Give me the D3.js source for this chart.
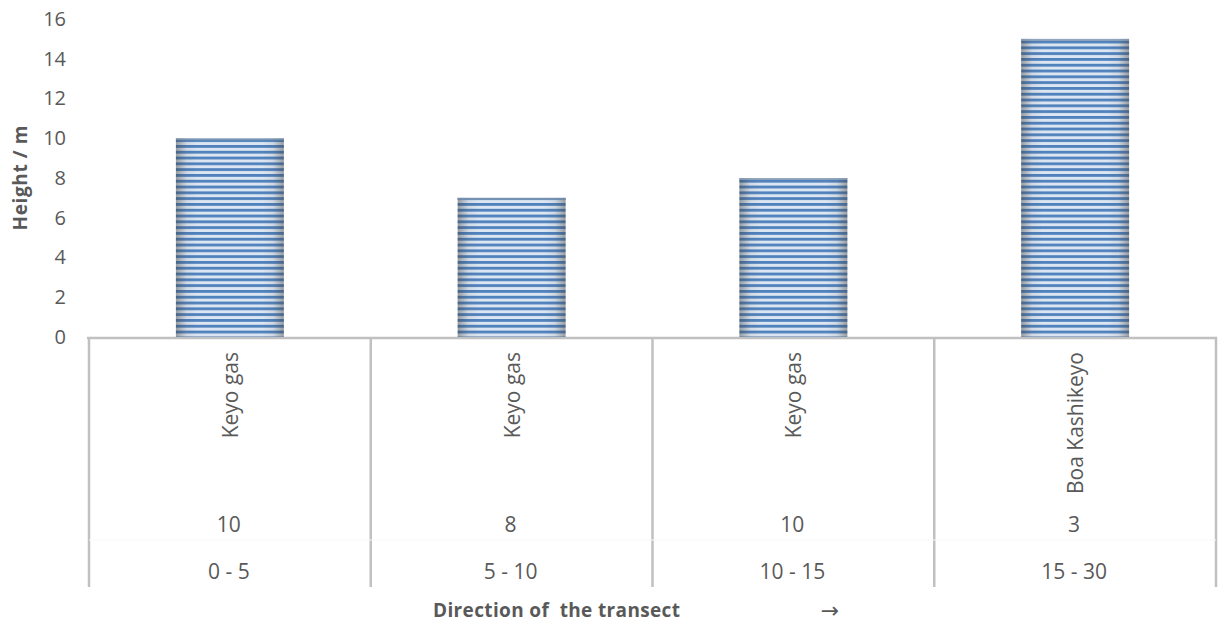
<!DOCTYPE html>
<html><head><meta charset="utf-8">
<script src="https://cdn.jsdelivr.net/npm/d3@7"></script>
<style>body{margin:0;background:#fff}svg{display:block}</style>
</head><body>
<script>
const species = ["Keyo gas", "Keyo gas", "Keyo gas", "Boa Kashikeyo"];
const counts = ["10", "8", "10", "3"];
const ranges = ["0 - 5", "5 - 10", "10 - 15", "15 - 30"];
const heights = [10, 7, 8, 15];
const yTicks = [0, 2, 4, 6, 8, 10, 12, 14, 16];

const W = 1219, H = 624;
const svg = d3.select("body").append("svg").attr("width", W).attr("height", H);
const font = "'Open Sans', sans-serif";
const textCol = "#595959";
const lineCol = "#c0c0c0";

const defs = svg.append("defs");
const pat = defs.append("pattern").attr("id", "stripes").attr("patternUnits", "userSpaceOnUse")
  .attr("width", 10).attr("height", 5.8);
pat.append("rect").attr("width", 10).attr("height", 5.8).attr("fill", "#dce6f2");
pat.append("rect").attr("y", 0).attr("width", 10).attr("height", 2.8).attr("fill", "#4f81bd");
const grad = defs.append("linearGradient").attr("id", "shade").attr("x1", 0).attr("x2", 1).attr("y1", 0).attr("y2", 0);
[[0, 0.45], [0.1, 0.08], [0.2, 0], [0.8, 0], [0.9, 0.08], [1, 0.45]].forEach(([o, a]) =>
  grad.append("stop").attr("offset", o).attr("stop-color", "#404040").attr("stop-opacity", a));

const x = d3.scaleBand().domain(d3.range(heights.length)).range([89, 1216]).padding(0);
const y = d3.scaleLinear().domain([0, 16]).range([337, 19]);
const barW = x.bandwidth() * 0.383;

// y tick labels
const yAxis = d3.axisLeft(y).tickValues(yTicks).tickSize(0).tickPadding(0);
const ga = svg.append("g").attr("transform", "translate(66,0)").call(yAxis);
ga.select(".domain").remove();
ga.selectAll("text").attr("font-family", font).attr("font-size", 20).attr("fill", textCol);

// bars
const bars = svg.append("g");
heights.forEach((v, i) => {
  const bx = x(i) + (x.bandwidth() - barW) / 2;
  bars.append("rect").attr("x", bx).attr("y", y(v)).attr("width", barW).attr("height", y(0) - y(v))
    .attr("fill", "url(#stripes)");
  bars.append("rect").attr("x", bx).attr("y", y(v)).attr("width", barW).attr("height", y(0) - y(v))
    .attr("fill", "url(#shade)");
  bars.append("rect").attr("x", bx).attr("y", y(v)).attr("width", barW).attr("height", 2)
    .attr("fill", "#8096b0").attr("opacity", 0.8);
});

// axis lines (multi-level category axis)
const bottom = 587;
svg.append("line").attr("x1", 87).attr("x2", 1217).attr("y1", y(0) + 1).attr("y2", y(0) + 1)
  .attr("stroke", lineCol).attr("stroke-width", 2.5);
const bounds = d3.range(heights.length + 1).map(i => i < heights.length ? x(i) : x(heights.length - 1) + x.bandwidth());
bounds.forEach(b => {
  svg.append("line").attr("x1", b).attr("x2", b).attr("y1", y(0)).attr("y2", bottom)
    .attr("stroke", lineCol).attr("stroke-width", 2.5);
});
svg.append("line").attr("x1", 89).attr("x2", 1216).attr("y1", 540).attr("y2", 540)
  .attr("stroke", "#f8f8f8").attr("stroke-width", 1);

// category labels
const cx = i => x(i) + x.bandwidth() / 2;
species.forEach((s, i) => {
  svg.append("text").attr("transform", `translate(${cx(i) + 8},352) rotate(-90)`)
    .attr("text-anchor", "end").attr("font-family", font).attr("font-size", 21).attr("fill", textCol).text(s);
});
counts.forEach((s, i) => {
  svg.append("text").attr("x", cx(i) - 1).attr("y", 532).attr("text-anchor", "middle")
    .attr("font-family", font).attr("font-size", 21).attr("fill", textCol).text(s);
});
ranges.forEach((s, i) => {
  svg.append("text").attr("x", cx(i) - 1).attr("y", 579).attr("text-anchor", "middle")
    .attr("font-family", font).attr("font-size", 21).attr("fill", textCol).text(s);
});

// axis titles
svg.append("text").attr("transform", "translate(27,178) rotate(-90)").attr("text-anchor", "middle")
  .attr("font-family", font).attr("font-size", 19).attr("font-weight", "bold").attr("fill", textCol)
  .attr("textLength", 105).attr("lengthAdjust", "spacing").text("Height / m");
svg.append("text").attr("x", 433).attr("y", 617).attr("xml:space", "preserve")
  .attr("font-family", font).attr("font-size", 19).attr("font-weight", "bold").attr("fill", textCol)
  .attr("textLength", 247).attr("lengthAdjust", "spacing")
  .text("Direction of  the transect");
svg.append("text").attr("x", 830).attr("y", 618).attr("text-anchor", "middle")
  .attr("font-family", "'DejaVu Sans', sans-serif").attr("font-size", 22).attr("fill", textCol)
  .text("→");
</script>
</body></html>
